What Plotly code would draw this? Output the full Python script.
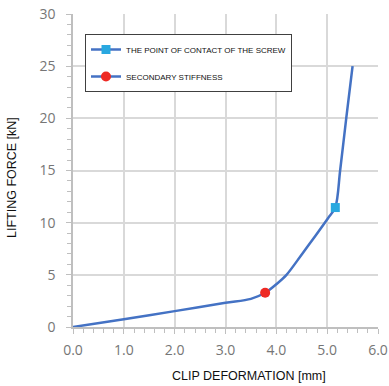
import plotly.graph_objects as go

# Curve data (clip deformation [mm] vs lifting force [kN])
deformation = [0.0, 1.0, 2.0, 3.0, 3.5, 3.78, 4.0, 4.2, 4.5, 4.77, 5.02, 5.16, 5.255, 5.375, 5.5]
force = [0.0, 0.74, 1.52, 2.32, 2.7, 3.28, 4.1, 5.0, 6.95, 8.75, 10.45, 11.45, 15.0, 20.0, 25.0]

# Marked points
contact_x = [5.16]
contact_y = [11.45]
secondary_x = [3.78]
secondary_y = [3.28]

x_ticks = [0, 1, 2, 3, 4, 5, 6]
y_ticks = [0, 5, 10, 15, 20, 25, 30]

LINE = "#4472C4"
GRID = "#d9d9d9"
TICKC = "#767676"

W_FIG, H_FIG = 389, 386
ML, MR, MT, MB = 73, 11, 14, 59
W, H = W_FIG - ML - MR, H_FIG - MT - MB

fig = go.Figure()
fig.add_trace(go.Scatter(x=deformation, y=force, mode="lines",
                         line=dict(color=LINE, width=2.5, shape="spline", smoothing=0.9),
                         showlegend=False, hoverinfo="skip"))
fig.add_trace(go.Scatter(x=contact_x, y=contact_y, mode="lines+markers", name="THE POINT OF CONTACT OF THE SCREW",
                         line=dict(color=LINE, width=2.5), marker=dict(symbol="square", size=9, color="#29a8e0"),
                         legendgroup="a"))
fig.add_trace(go.Scatter(x=secondary_x, y=secondary_y, mode="lines+markers", name="SECONDARY STIFFNESS",
                         line=dict(color=LINE, width=2.5), marker=dict(symbol="circle", size=10, color="#ee2a24"),
                         legendgroup="b"))

fig.update_layout(
    width=W_FIG, height=H_FIG, autosize=False,
    margin=dict(l=ML, r=MR, t=MT, b=MB, pad=0, autoexpand=False),
    paper_bgcolor="white", plot_bgcolor="white",
    font=dict(family="Liberation Sans, Arial, sans-serif"),
    legend=dict(x=(85 - ML) / W, y=(H_FIG - MB - 34) / H, xanchor="left", yanchor="top",
                bordercolor="#404040", borderwidth=1, bgcolor="white",
                font=dict(size=8, color="#111111"), tracegroupgap=8,
                itemwidth=30),
    annotations=[
        dict(text="CLIP DEFORMATION [mm]", x=(249 - ML) / W, y=(H_FIG - MB - 376) / H,
             xanchor="center", yanchor="middle",
             xref="paper", yref="paper", showarrow=False, font=dict(size=12.5, color="#111111")),
        dict(text="LIFTING FORCE [kN]", x=(12 - ML) / W, y=(H_FIG - MB - 178) / H, textangle=-90,
             xanchor="center", yanchor="middle",
             xref="paper", yref="paper", showarrow=False, font=dict(size=12.5, color="#111111")),
    ],
)

fig.update_xaxes(range=[0, 6], tickvals=x_ticks, tickformat=".1f", showgrid=True, gridcolor=GRID, gridwidth=1.5,
                 showline=True, linecolor="#bfbfbf", linewidth=1.5, ticks="outside", ticklen=5, tickcolor="#bfbfbf",
                 tickfont=dict(size=14, color=TICKC, family="Open Sans, sans-serif"), ticklabelstandoff=4,
                 minor=dict(dtick=0.2, ticks="outside", ticklen=4, tickcolor="#bfbfbf", showgrid=False),
                 zeroline=False, fixedrange=True, automargin=False)
fig.update_yaxes(range=[0, 30], tickvals=y_ticks, showgrid=True, gridcolor=GRID, gridwidth=1.5,
                 showline=True, linecolor="#bfbfbf", linewidth=1.5, ticks="outside", ticklen=5, tickcolor="#bfbfbf",
                 tickfont=dict(size=14, color=TICKC, family="Open Sans, sans-serif"), ticklabelstandoff=8,
                 minor=dict(dtick=1, ticks="outside", ticklen=4, tickcolor="#bfbfbf", showgrid=False),
                 zeroline=False, fixedrange=True, automargin=False)

fig.write_html("out.html", config={"responsive": False, "displayModeBar": False},
               post_script="document.body.style.margin='0';document.body.style.overflow='hidden';")
